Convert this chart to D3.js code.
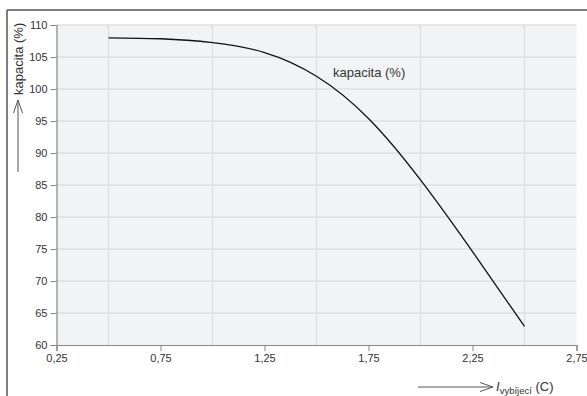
<!DOCTYPE html>
<html><head><meta charset="utf-8">
<script src="https://cdn.jsdelivr.net/npm/d3@7"></script>
<style>body{margin:0;background:#fff}svg{display:block;font-family:"Liberation Sans",Arial,sans-serif}</style>
</head><body>
<svg id="c" width="587" height="396"></svg>
<script>
const xValues = [0.5, 0.75, 1.0, 1.25, 1.5, 1.75, 2.0, 2.25, 2.5];
const capacity = [108.0, 107.85, 107.25, 105.7, 102.0, 95.4, 85.8, 74.6, 62.9];
const xTicks = [0.25, 0.75, 1.25, 1.75, 2.25, 2.75];
const xGrid = [0.5, 1.0, 1.5, 2.0, 2.5];
const yTicks = [60, 65, 70, 75, 80, 85, 90, 95, 100, 105, 110];
const seriesName = "kapacita (%)";

const svg = d3.select("#c");
const x = d3.scaleLinear().domain([0.25, 2.75]).range([56.5, 576.5]);
const y = d3.scaleLinear().domain([60, 110]).range([345, 25]);

// frame
svg.append("line").attr("x1",7).attr("x2",587).attr("y1",10).attr("y2",10).attr("stroke","#555").attr("stroke-width",1.5);
svg.append("line").attr("x1",7).attr("x2",7).attr("y1",10).attr("y2",396).attr("stroke","#555").attr("stroke-width",1.5);

// plot bg
svg.append("rect").attr("x",x(0.25)).attr("y",y(110)).attr("width",x(2.75)-x(0.25)).attr("height",y(60)-y(110)).attr("fill","#f2f3f5");

// grid
svg.append("g").selectAll("line").data(yTicks.filter(d=>d>60)).join("line")
  .attr("x1",x(0.25)).attr("x2",x(2.75)).attr("y1",d=>y(d)).attr("y2",d=>y(d))
  .attr("stroke","#e0e0e0").attr("stroke-width",1.5);
svg.append("g").selectAll("line").data(xGrid).join("line")
  .attr("x1",d=>x(d)).attr("x2",d=>x(d)).attr("y1",y(110)).attr("y2",y(60))
  .attr("stroke","#dcdcdc").attr("stroke-width",1.2);

// axes
const xAxis = d3.axisBottom(x).tickValues(xTicks).tickSize(6).tickPadding(3)
  .tickFormat(d=>d3.format(".2f")(d).replace(".",","));
const gx = svg.append("g").attr("transform",`translate(0,${y(60)})`).call(xAxis);
const yAxis = d3.axisLeft(y).tickValues(yTicks).tickSize(6).tickPadding(3);
const gy = svg.append("g").attr("transform",`translate(${x(0.25)},0)`).call(yAxis);
[gx,gy].forEach(g=>{
  g.select(".domain").attr("stroke","#888").attr("stroke-width",1.2);
  g.selectAll(".tick line").attr("stroke","#888");
  g.selectAll(".tick text").attr("fill","#333").style("font-size","11px").style("font-family","'Liberation Sans',Arial,sans-serif");
});

// curve
const line = d3.line().x((d,i)=>x(xValues[i])).y(d=>y(d)).curve(d3.curveNatural);
svg.append("path").datum(capacity).attr("d",line).attr("fill","none").attr("stroke","#111").attr("stroke-width",1.3);

// annotation
svg.append("text").attr("x",333).attr("y",77).attr("fill","#333").style("font-size","13px").text(seriesName);

// y label with arrow
svg.append("line").attr("x1",18).attr("x2",18).attr("y1",172).attr("y2",100).attr("stroke","#555").attr("stroke-width",1);
svg.append("path").attr("d","M13.5,113 L18,100 L22.5,113").attr("fill","none").attr("stroke","#555").attr("stroke-width",1);
svg.append("text").attr("transform","translate(22.5,95) rotate(-90)").attr("fill","#333").style("font-size","13px").text(seriesName);

// x label with arrow
svg.append("line").attr("x1",418).attr("x2",493).attr("y1",387).attr("y2",387).attr("stroke","#555").attr("stroke-width",1);
svg.append("path").attr("d","M480,382.5 L493,387 L480,391.5").attr("fill","none").attr("stroke","#555").attr("stroke-width",1);
const xl = svg.append("text").attr("x",496).attr("y",391).attr("fill","#333").style("font-size","13px");
xl.append("tspan").style("font-style","italic").text("I");
xl.append("tspan").attr("dy",3).style("font-size","9.5px").text("vybíjecí");
xl.append("tspan").attr("dy",-3).text(" (C)");
</script>
</body></html>
